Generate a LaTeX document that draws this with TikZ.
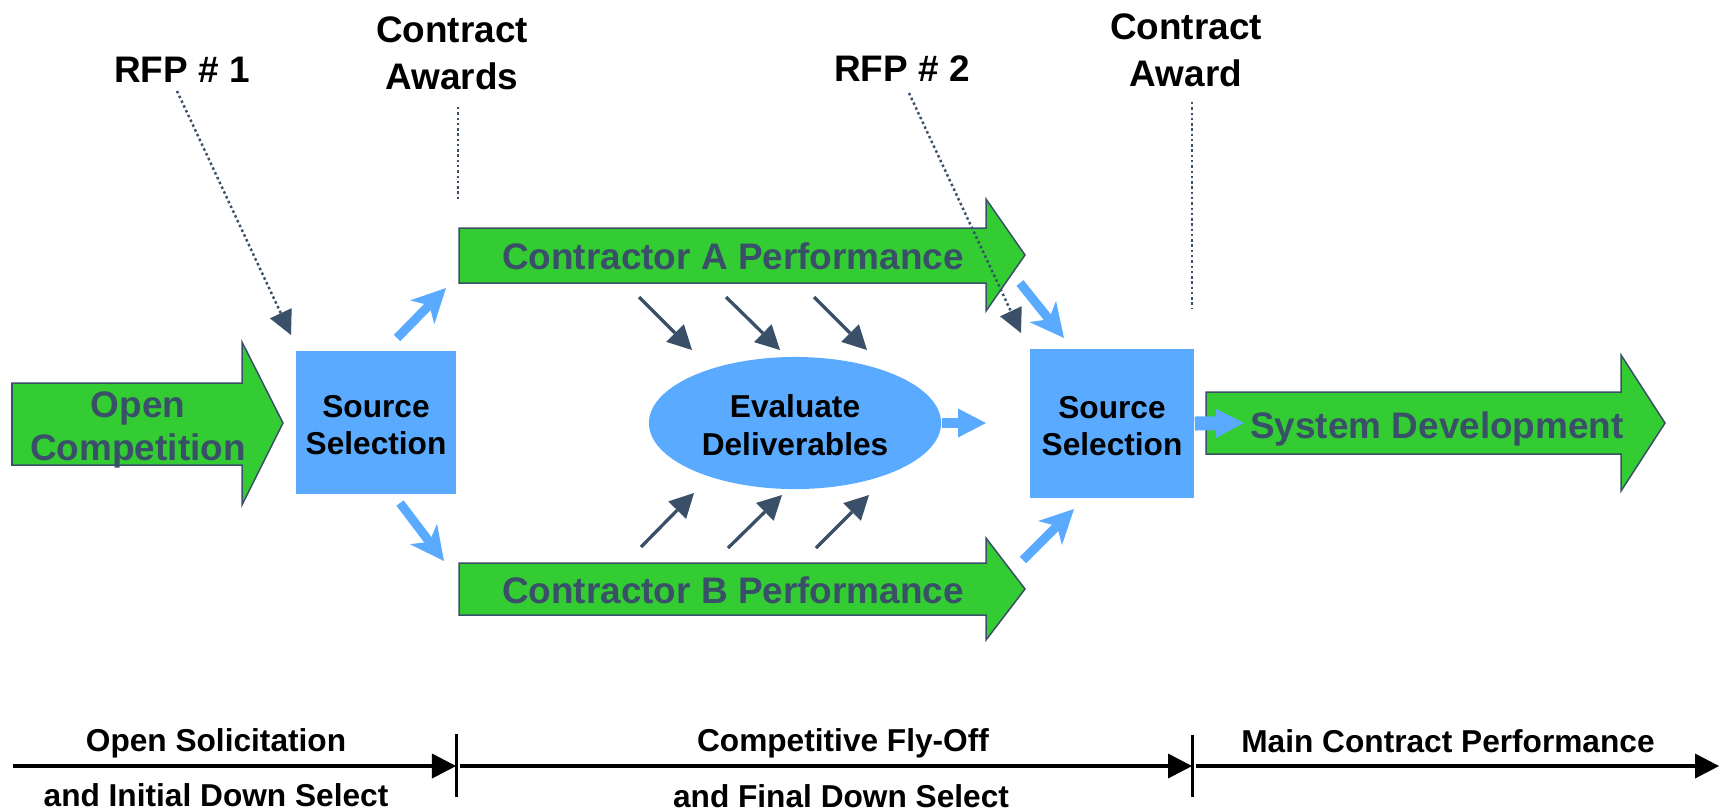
\documentclass[tikz,border=0pt]{standalone}
\usepackage{fontspec}
\setmainfont{Liberation Sans}
\usetikzlibrary{arrows.meta,shapes.geometric}
\definecolor{grn}{HTML}{33CC33}
\definecolor{blu}{HTML}{5AAAFF}
\definecolor{slate}{HTML}{3A5068}
\begin{document}
\begin{tikzpicture}[x=0.01cm,y=-0.01cm,
 garrow/.style={fill=grn,draw=slate,line width=0.015cm,line join=miter},
 gtext/.style={text=slate,font=\fontsize{10.5}{12.2}\selectfont\bfseries,align=center,text depth=0pt,inner sep=0pt},
 bbox/.style={fill=blu,draw=none,font=\fontsize{9}{10.7}\selectfont\bfseries,align=center,inner sep=0pt},
 barrow/.style={draw=blu,line width=0.09cm,-{Stealth[length=0.34cm,width=0.34cm,inset=0.1cm,line width=0pt]}},
 flatarrow/.style={draw=blu,-{Triangle[length=0.28cm,width=0.29cm,line width=0pt]}},
 darrow/.style={draw=slate,line width=0.033cm,-{Triangle[length=0.24cm,width=0.25cm,line width=0pt]}},
 dotline/.style={draw=slate,line width=0.7pt,dash pattern=on 0.7pt off 0.8pt},
 rfparrow/.style={dotline,-{Triangle[length=0.24cm,width=0.24cm,line width=0pt]}},
 toplabel/.style={font=\fontsize{10.5}{13.4}\selectfont\bfseries,align=center,inner sep=0pt},
 tlabel/.style={font=\fontsize{9}{10}\selectfont\bfseries,anchor=base,inner sep=0pt},
 tline/.style={line width=0.033cm,-{Triangle[length=0.24cm,width=0.25cm,line width=0pt]}},
 tickline/.style={line width=0.03cm}
]
\path[use as bounding box] (0,0) rectangle (1722,811);

% green arrows
\draw[garrow] (12,383) -- (242,383) -- (242,342) -- (283,423) -- (242,505) -- (242,465) -- (12,465) -- cycle;
\node[gtext] (oc) at (138,426) {Open\\Competition};

\draw[garrow] (459,228) -- (986,228) -- (986,199) -- (1025,255) -- (986,311) -- (986,283) -- (459,283) -- cycle;
\node[gtext] (ca) at (733,256) {Contractor A Performance};

\draw[garrow] (459,563) -- (986,563) -- (986,538) -- (1025,589) -- (986,640) -- (986,615) -- (459,615) -- cycle;
\node[gtext] (cb) at (733,590) {Contractor B Performance};

\draw[garrow] (1206,392) -- (1621,392) -- (1621,355) -- (1665,423) -- (1621,491) -- (1621,454) -- (1206,454) -- cycle;
\node[gtext] (sd) at (1437,425) {System Development};

% boxes and ellipse
\node[bbox,minimum width=1.60cm,minimum height=1.43cm] (ss1) at (376,422.5) {};
\node[font=\fontsize{9}{10.7}\selectfont\bfseries,align=center,inner sep=0pt] (ss1t) at (376,425) {Source\\Selection};
\node[bbox,minimum width=1.64cm,minimum height=1.49cm] (ss2) at (1112,423.5) {};
\node[font=\fontsize{9}{10.7}\selectfont\bfseries,align=center,inner sep=0pt] (ss2t) at (1112,426) {Source\\Selection};
\node[bbox,ellipse,minimum width=2.92cm,minimum height=1.32cm] (ev) at (795,423) {};
\node[font=\fontsize{9}{10.7}\selectfont\bfseries,align=center,inner sep=0pt] (evt0) at (795,425) {Evaluate\\Deliverables};

% blue arrows
\coordinate (b1s) at (397,338); \coordinate (b1e) at (446,288);
\coordinate (b2s) at (400,503); \coordinate (b2e) at (444,561);
\coordinate (b3s) at (1020,283); \coordinate (b3e) at (1064,338);
\coordinate (b4s) at (1023,560); \coordinate (b4e) at (1074,509);
\draw[barrow] (b1s) -- (b1e);
\draw[barrow] (b2s) -- (b2e);
\draw[barrow] (b3s) -- (b3e);
\draw[barrow] (b4s) -- (b4e);
\coordinate (evt) at (986,423);
\draw[flatarrow,line width=0.10cm] (ev.east) -- (evt);
\coordinate (sdt) at (1244,423);
\draw[flatarrow,line width=0.14cm] (ss2.east) -- (sdt);

% dark arrows
\coordinate (u1s) at (639,297); \coordinate (u1e) at (692,350);
\coordinate (u2s) at (726,297); \coordinate (u2e) at (780,350);
\coordinate (u3s) at (814,297); \coordinate (u3e) at (867,350);
\coordinate (l1s) at (641,547); \coordinate (l1e) at (694,493);
\coordinate (l2s) at (728,548); \coordinate (l2e) at (782,495);
\coordinate (l3s) at (816,548); \coordinate (l3e) at (869,495);
\foreach \a in {u1,u2,u3,l1,l2,l3} {\draw[darrow] (\a s) -- (\a e);}

% top labels
\node[toplabel] (rfp1) at (182,70) {RFP \# 1};
\node[toplabel] (rfp2) at (902,69) {RFP \# 2};
\node[toplabel] (caw) at (452,53) {Contract\\Awards};
\node[toplabel] (cad) at (1186,50) {Contract\\Award};
\coordinate (r1s) at (177,91); \coordinate (r1e) at (291,335);
\coordinate (r2s) at (909,93); \coordinate (r2e) at (1021,333);
\draw[rfparrow] (r1s) -- (r1e);
\draw[rfparrow] (r2s) -- (r2e);
\coordinate (v1s) at (458,107); \coordinate (v1e) at (458,200);
\coordinate (v2s) at (1192,102); \coordinate (v2e) at (1192,308);
\draw[dotline] (v1s) -- (v1e);
\draw[dotline] (v2s) -- (v2e);

% timeline
\coordinate (t0) at (13,766); \coordinate (t1) at (456,766);
\coordinate (t1b) at (460,766); \coordinate (t2) at (1192,766);
\coordinate (t2b) at (1196,766); \coordinate (t3) at (1719,766);
\draw[tline] (t0) -- (t1);
\draw[tline] (t1b) -- (t2);
\draw[tline] (t2b) -- (t3);
\coordinate (k1a) at (456,734); \coordinate (k1b) at (456,797);
\coordinate (k2a) at (1192,735); \coordinate (k2b) at (1192,797);
\draw[tickline] (k1a) -- (k1b);
\draw[tickline] (k2a) -- (k2b);
\node[tlabel] (p1a) at (216,751) {Open Solicitation};
\node[tlabel] (p1b) at (216,806) {and Initial Down Select};
\node[tlabel] (p2a) at (843,751) {Competitive Fly-Off};
\node[tlabel] (p2b) at (841,807) {and Final Down Select};
\node[tlabel] (p3a) at (1448,752) {Main Contract Performance};
\end{tikzpicture}
\end{document}
